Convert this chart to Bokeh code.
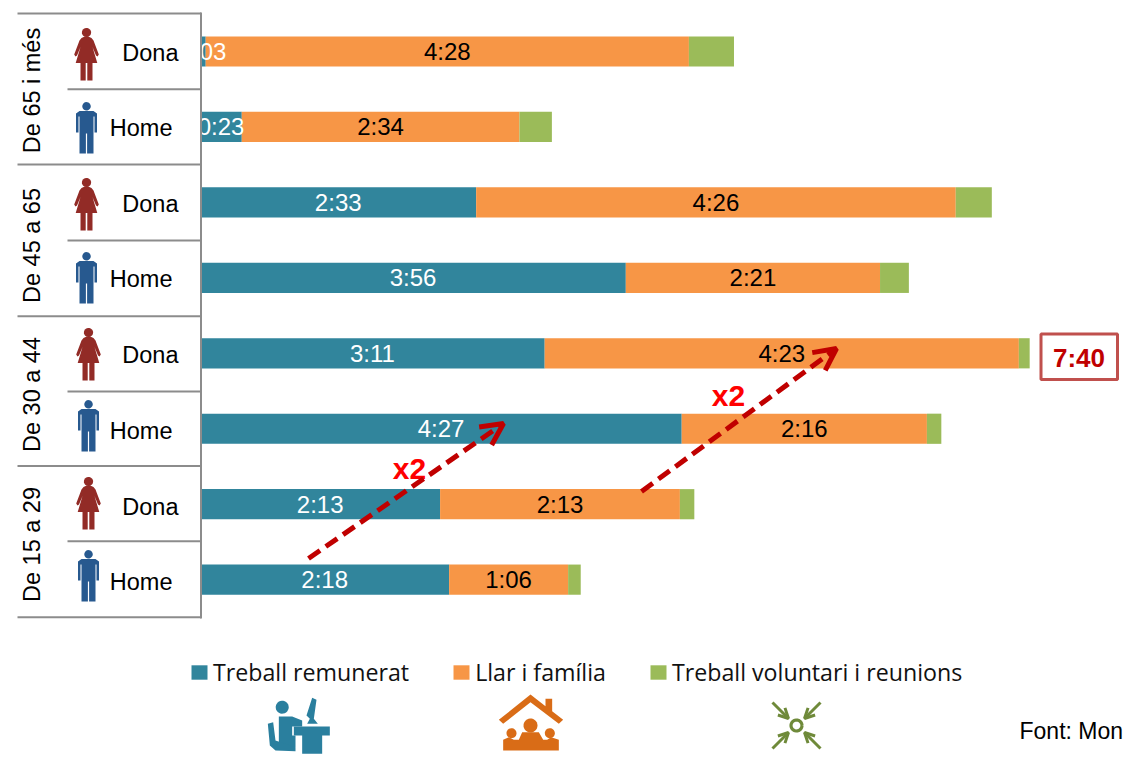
from bokeh.plotting import figure
from bokeh.models import ColumnDataSource, Range1d, Arrow, OpenHead
from bokeh.core.properties import value
from bokeh.embed import file_html
from bokeh.resources import INLINE
import numpy as np

# ---------- data (minutes per day) ----------
age_groups = ["De 65 i més", "De 45 a 65", "De 30 a 44", "De 15 a 29"]
sexes = ["Dona", "Home", "Dona", "Home", "Dona", "Home", "Dona", "Home"]
paid = [3, 23, 153, 236, 191, 267, 133, 138]
home = [268, 154, 266, 141, 263, 136, 133, 66]
volunteer = [25, 18, 20, 16, 6, 8, 8, 7]
paid_labels = ["0:03", "0:23", "2:33", "3:56", "3:11", "4:27", "2:13", "2:18"]
home_labels = ["4:28", "2:34", "4:26", "2:21", "4:23", "2:16", "2:13", "1:06"]
series_names = ["Treball remunerat", "Llar i família", "Treball voluntari i reunions"]
series_colors = ["#31859c", "#f79646", "#9bbb59"]
total_label = "7:40"
ratio_label = "x2"
source_label = "Font: Mon"

# ---------- layout ----------
W, H = 1124, 758
PX_PER_MIN = 1.803
X0 = 199.8          # picture x of zero minutes
ROW0, ROW_H = 51.0, 75.45
SANS = value("Liberation Sans")

p = figure(width=W, height=H, output_backend="svg", toolbar_location=None,
           x_range=Range1d((0 - X0) / PX_PER_MIN, (W - X0) / PX_PER_MIN),
           y_range=Range1d((H - ROW0) / ROW_H, (0 - ROW0) / ROW_H),
           min_border=0, outline_line_color=None)
p.axis.visible = False
p.grid.visible = False
p.extra_x_ranges["px"] = Range1d(0, W)
p.extra_y_ranges["px"] = Range1d(H, 0)
PX = dict(x_range_name="px", y_range_name="px")

rows = list(range(len(sexes)))
src = ColumnDataSource(dict(row=rows, paid=paid, home=home, volunteer=volunteer))
p.hbar_stack(["paid", "home", "volunteer"], y="row", height=0.4, color=series_colors,
             line_color=None, source=src, legend_label=series_names)

p.legend.orientation = "horizontal"
p.legend.location = (189, 70)
p.legend.background_fill_alpha = 0
p.legend.border_line_color = None
p.legend.padding = 0
p.legend.margin = 0
p.legend.spacing = 42
p.legend.glyph_width = 20
p.legend.glyph_height = 18
p.legend.label_standoff = 4
p.legend.label_text_font = "Open Sans"
p.legend.label_text_font_size = "23.2px"
p.legend.label_text_color = "#111111"

# value labels
paid_mid = [v / 2 for v in paid]
home_mid = [a + b / 2 for a, b in zip(paid, home)]
p.text(paid_mid, rows, text=paid_labels, text_color="white", text_font=SANS,
       text_font_size="24px", text_align="center", text_baseline="middle")
p.text(home_mid, rows, text=home_labels, text_color="black", text_font=SANS,
       text_font_size="24px", text_align="center", text_baseline="middle")

# panel at left masks what runs past zero
AXIS_X = 200.5
p.quad(left=[0], right=[AXIS_X], top=[0], bottom=[640], fill_color="white", line_color=None, **PX)

GRAY = "#8c8c8c"
group_y = [13, 164, 315.7, 465.5, 616.7]
inner_y = [88.7, 240, 391, 540.7]
p.segment(x0=[17] * 5, x1=[AXIS_X] * 5, y0=group_y, y1=group_y, line_color=GRAY, line_width=2, **PX)
p.segment(x0=[67] * 4, x1=[AXIS_X] * 4, y0=inner_y, y1=inner_y, line_color=GRAY, line_width=2, **PX)
p.segment(x0=[AXIS_X], x1=[AXIS_X], y0=[12], y1=[618], line_color=GRAY, line_width=2, **PX)

# group labels
p.text([31.5] * 4, [90, 245, 394, 544], text=age_groups, angle=np.pi / 2, text_color="black",
       text_font=SANS, text_font_size="23.5px", text_align="center", text_baseline="middle", **PX)

# sex labels
sex_right = [178 if s == "Dona" else 172 for s in sexes]
sex_y = [52, 127, 203, 278, 354, 430, 506, 581]
p.text(sex_right, sex_y, text=sexes, text_color="black", text_font=SANS, text_font_size="23.5px",
       text_align="right", text_baseline="middle", **PX)

# person icons
WOMAN = [(-1.8, 9), (1.8, 9), (5, 10.5), (7, 13), (12.3, 27), (11, 29), (9.5, 28), (6, 19.5), (10.8, 35.5),
         (6, 35.5), (6, 53), (0.8, 53), (0.8, 35.5), (-0.8, 35.5), (-0.8, 53), (-6, 53), (-6, 35.5), (-10.8, 35.5),
         (-6, 19.5), (-9.5, 28), (-11, 29), (-12.3, 27), (-7, 13), (-5, 10.5)]
MAN = [(-10.5, 11), (-7, 8.5), (7, 8.5), (10.5, 11), (10.5, 30), (8, 30), (8, 14), (7, 14), (7, 51),
       (0.6, 51), (0.6, 31), (-0.6, 31), (-0.6, 51), (-7, 51), (-7, 14), (-8, 14), (-8, 30), (-10.5, 30)]
icon_pos = [(86, 27), (86, 102), (86, 177), (86, 252), (88, 327), (88, 400), (88, 476), (88, 550)]
th = np.linspace(0, 2 * np.pi, 24)
for s, (cx, top) in zip(sexes, icon_pos):
    shape, col, hy, r = (WOMAN, "#922b26", 5, 4.6) if s == "Dona" else (MAN, "#27598f", 3.8, 4.2)
    p.patch([cx + a for a, _ in shape], [top + b for _, b in shape], fill_color=col, line_color=None, **PX)
    p.patch(cx + r * np.cos(th), top + hy + r * np.sin(th), fill_color=col, line_color=None, **PX)

# arrows and x2
DARK = "#c00000"
for (a, b, c, d) in [(308, 558, 503, 423), (641, 491, 836, 348)]:
    p.add_layout(Arrow(end=OpenHead(size=22, line_color=DARK, line_width=5), x_start=a, y_start=b, x_end=c, y_end=d,
                       line_color=DARK, line_width=5, line_dash="14 7", x_range_name="px", y_range_name="px"))
p.text([409, 728], [468, 395], text=[ratio_label] * 2, text_color="#ff0000", text_font=SANS,
       text_font_style="bold", text_font_size="30px", text_align="center", text_baseline="middle", **PX)

# total box
p.quad(left=[1040.5], right=[1117], top=[333.5], bottom=[379], fill_color="white",
       line_color="#c0504d", line_width=3, **PX)
p.text([1078.5], [357], text=[total_label], text_color=DARK, text_font=SANS, text_font_style="bold",
       text_font_size="26px", text_align="center", text_baseline="middle", **PX)

# source
p.text([1019], [730], text=[source_label], text_color="black", text_font=SANS, text_font_size="23px",
       text_align="left", text_baseline="middle", **PX)

def ring(cx, cy, r, n=28):
    a = np.linspace(0, 2 * np.pi, n)
    return cx + r * np.cos(a), cy + r * np.sin(a)

def tz(pts):
    return [180 + a / 3 for a, _ in pts], [640 + b / 3 for _, b in pts]

# worker icon
T = "#2a7f9e"
x, y = ring(281.7, 706.7, 6.5)
p.patch(x, y, fill_color=T, line_color=None, **PX)
for pts in [
    [(295, 228), (335, 228), (365, 240), (365, 258), (335, 258), (335, 285), (345, 285), (345, 320), (295, 320)],
    [(340, 258), (448, 258), (448, 285), (425, 285), (425, 340), (365, 340), (365, 285), (340, 285)],
    [(395, 172), (408, 178), (400, 235), (412, 250), (380, 250), (388, 235), (378, 225)],
    [(262, 250), (278, 245), (285, 300), (345, 320), (345, 332), (285, 330), (268, 315)],
]:
    xs, ys = tz(pts)
    p.patch(xs, ys, fill_color=T, line_color=None, **PX)

# house icon
O = "#d96c17"
for pts in [
    [(1050, 162), (1095, 197), (1095, 175), (1115, 175), (1115, 212), (1148, 238), (1135, 250), (1050, 185), (968, 250), (955, 238)],
    [(968, 330), (968, 298), (985, 290), (1000, 298), (1015, 298), (1025, 275), (1075, 275), (1088, 298), (1100, 298), (1112, 290), (1135, 298), (1135, 330)],
]:
    xs, ys = tz(pts)
    p.patch(xs, ys, fill_color=O, line_color=None, **PX)
for zx, zy, zr in [(993, 278, 15), (1050, 255, 21), (1108, 278, 15)]:
    x, y = ring(180 + zx / 3, 640 + zy / 3, zr / 3)
    p.patch(x, y, fill_color=O, line_color=None, **PX)

# convergence icon
G = "#6f8a3a"
x, y = ring(796, 725, 5.5)
p.line(x, y, line_color=G, line_width=3.2, **PX)
for a, b, c, d in [(772, 702, 788, 718), (820, 702, 804, 718), (772, 748, 788, 732), (820, 748, 804, 732)]:
    p.add_layout(Arrow(end=OpenHead(size=10, line_color=G, line_width=3), x_start=a, y_start=b, x_end=c, y_end=d,
                       line_color=G, line_width=3, x_range_name="px", y_range_name="px"))

open("out.html", "w").write(file_html(p, INLINE))
